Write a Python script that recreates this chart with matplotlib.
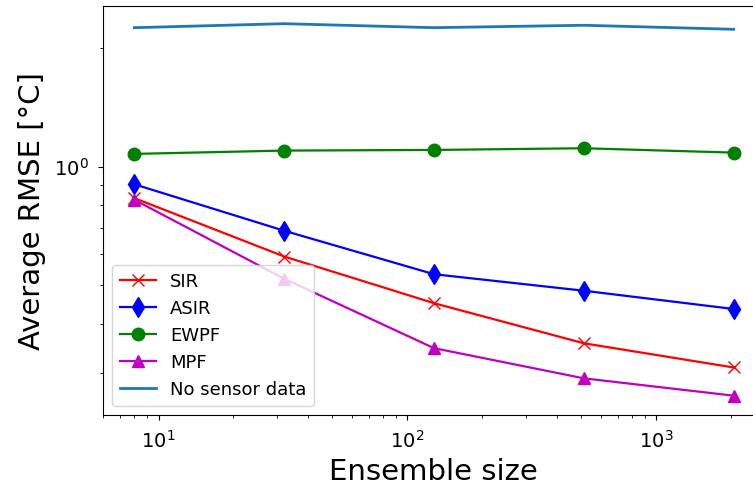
import numpy as np
import matplotlib
matplotlib.use("Agg")
import matplotlib.pyplot as plt
from matplotlib.ticker import NullFormatter

ensemble = [8, 32, 128, 512, 2048]
sir = [0.832, 0.592, 0.451, 0.357, 0.310]
asir = [0.902, 0.688, 0.534, 0.485, 0.436]
ewpf = [1.077, 1.098, 1.102, 1.113, 1.085]
mpf = [0.824, 0.520, 0.347, 0.291, 0.263]
no_sensor = [2.248, 2.301, 2.248, 2.280, 2.227]

fig = plt.figure(figsize=(7.53, 4.90), dpi=100)
# right edge of axes runs past the figure edge, as in the reference
ax = fig.add_axes([0.1372, 0.1531, 0.8761, 0.8337])

ax.plot(ensemble, sir, color="r", marker="x", markersize=9, lw=1.6, label="SIR")
ax.plot(ensemble, asir, color="b", marker="d", markersize=10, lw=1.6, label="ASIR")
ax.plot(ensemble, ewpf, color="g", marker="o", markersize=9, lw=1.6, label="EWPF")
ax.plot(ensemble, mpf, color="m", marker="^", markersize=9, lw=1.6, label="MPF")
ax.plot(ensemble, no_sensor, color="#1f77b4", lw=2, label="No sensor data")

ax.set_xscale("log")
ax.set_yscale("log")
ax.set_xlim(6.0, 2690)
ax.set_ylim(0.235, 2.544)
ax.yaxis.set_minor_formatter(NullFormatter())

ax.tick_params(which="major", labelsize=14, pad=7)
ax.set_xlabel("Ensemble size", fontsize=21, labelpad=5)
ax.set_ylabel("Average RMSE [°C]", fontsize=21, labelpad=6)
ax.legend(loc="lower left", fontsize=13)

fig.savefig("out.png", dpi=100)
